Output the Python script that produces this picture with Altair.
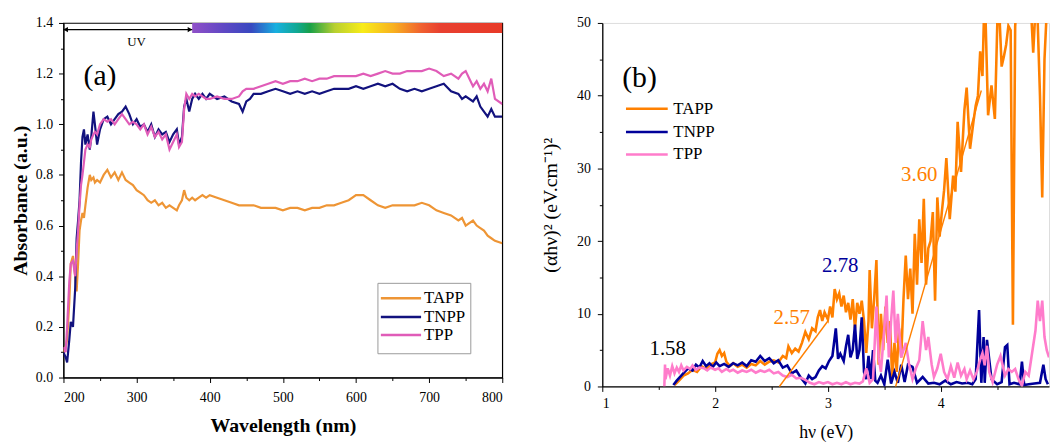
import altair as alt
import pandas as pd

# ---------------- Panel (a): absorbance vs wavelength ----------------
wl_a = [200, 203, 205, 208, 210, 213, 216, 218, 220, 222,
        224, 226, 228, 230, 233, 236, 238, 241, 243, 246,
        250, 255, 260, 265, 270, 275, 280, 285, 290, 295,
        300, 305, 310, 315, 320, 325, 330, 335, 340, 345,
        350, 355, 358, 362, 365, 368, 372, 376, 380, 385,
        390, 395, 400, 410, 420, 430, 440, 445, 450, 455,
        460, 470, 480, 490, 500, 510, 520, 530, 540, 550,
        560, 570, 580, 590, 600, 610, 620, 630, 640, 650,
        660, 670, 680, 690, 700, 710, 720, 730, 740, 745,
        750, 760, 765, 770, 775, 780, 785, 790, 800]
tapp_a = [0.10, 0.12, 0.15, 0.30, 0.45, 0.48, 0.40, 0.34, 0.45, 0.58,
          0.62, 0.65, 0.63, 0.68, 0.75, 0.80, 0.78, 0.79, 0.77, 0.78,
          0.77, 0.80, 0.82, 0.79, 0.81, 0.78, 0.81, 0.78, 0.77, 0.76,
          0.74, 0.73, 0.72, 0.70, 0.69, 0.70, 0.68, 0.69, 0.67, 0.68,
          0.67, 0.66, 0.68, 0.70, 0.74, 0.71, 0.70, 0.71, 0.70, 0.71,
          0.72, 0.71, 0.72, 0.71, 0.70, 0.69, 0.68, 0.68, 0.68, 0.68,
          0.68, 0.67, 0.67, 0.67, 0.66, 0.67, 0.67, 0.66, 0.67, 0.67,
          0.68, 0.68, 0.69, 0.70, 0.72, 0.72, 0.70, 0.68, 0.67, 0.68,
          0.68, 0.68, 0.68, 0.69, 0.68, 0.66, 0.65, 0.64, 0.62, 0.63,
          0.60, 0.62, 0.60, 0.59, 0.58, 0.56, 0.55, 0.54, 0.53]
tnpp_a = [0.10, 0.08, 0.06, 0.15, 0.22, 0.20, 0.35, 0.55, 0.62, 0.70,
          0.85, 0.95, 0.98, 0.92, 0.96, 0.90, 0.95, 1.05, 1.00, 0.92,
          0.98, 1.02, 1.03, 1.00, 1.02, 1.04, 1.05, 1.07, 1.04, 1.00,
          1.02, 0.99, 1.00, 0.97, 1.00, 0.95, 0.98, 0.96, 0.97, 0.93,
          0.96, 0.98, 0.92, 0.95, 1.07, 1.10, 1.05, 1.10, 1.12, 1.10,
          1.12, 1.10, 1.12, 1.10, 1.11, 1.09, 1.08, 1.05, 1.09, 1.10,
          1.12, 1.12, 1.13, 1.14, 1.13, 1.12, 1.13, 1.12, 1.13, 1.12,
          1.13, 1.14, 1.14, 1.14, 1.15, 1.14, 1.15, 1.16, 1.15, 1.16,
          1.14, 1.13, 1.14, 1.13, 1.14, 1.15, 1.16, 1.13, 1.12, 1.10,
          1.11, 1.09, 1.11, 1.07, 1.05, 1.03, 1.06, 1.03, 1.03]
tpp_a = [0.12, 0.10, 0.20, 0.38, 0.45, 0.46, 0.40, 0.50, 0.58, 0.68,
         0.76, 0.80, 0.85, 0.90, 0.92, 0.91, 0.94, 0.96, 0.97, 0.96,
         1.00, 1.02, 1.01, 1.02, 1.00, 1.02, 1.04, 1.02, 1.00, 1.01,
         1.00, 0.98, 1.00, 0.96, 0.99, 0.95, 0.97, 0.94, 0.96, 0.90,
         0.93, 0.96, 0.91, 0.93, 1.06, 1.12, 1.10, 1.12, 1.11, 1.12,
         1.11, 1.10, 1.10, 1.11, 1.10, 1.10, 1.11, 1.13, 1.14, 1.14,
         1.14, 1.15, 1.16, 1.17, 1.16, 1.17, 1.17, 1.18, 1.17, 1.18,
         1.18, 1.19, 1.19, 1.19, 1.19, 1.20, 1.19, 1.20, 1.21, 1.20,
         1.20, 1.21, 1.21, 1.21, 1.22, 1.21, 1.19, 1.20, 1.18, 1.20,
         1.21, 1.15, 1.17, 1.14, 1.16, 1.13, 1.18, 1.10, 1.08]

series_names = ["TAPP", "TNPP", "TPP"]
colors_a = ["#EE9535", "#12127E", "#E05CB8"]
colors_b = ["#FF8000", "#00009A", "#FF7CCB"]

x_major_a = [200, 300, 400, 500, 600, 700, 800]
x_minor_a = [250, 350, 450, 550, 650, 750]
y_major_a = [0.0, 0.2, 0.4, 0.6, 0.8, 1.0, 1.2, 1.4]
y_minor_a = [0.1, 0.3, 0.5, 0.7, 0.9, 1.1, 1.3]

# legend of panel (a), in data units: box, sample-line span, rows, label x
legend_a_box = (630, 757, 0.372, 0.094)
legend_a_line = (634, 689)
legend_a_rows = [0.313, 0.239, 0.168]
legend_a_text_x = 693

# visible spectrum bar and UV arrow (data units)
vis_start, vis_end, vis_top, vis_bottom = 376, 800, 1.4, 1.36
uv_start, uv_end, uv_level = 200, 376, 1.374
uv_label = ("UV", 300, 1.325)
label_a = ("(a)", 250, 1.19)
spectrum_stops = [("#9050C8", 0.0), ("#6048C4", 0.10), ("#3848C0", 0.19),
                  ("#18B0E0", 0.27), ("#10A890", 0.34), ("#18A048", 0.38),
                  ("#B8D030", 0.46), ("#F8EC18", 0.55), ("#F8B020", 0.65),
                  ("#F06030", 0.74), ("#E84030", 0.80), ("#E83A28", 1.0)]

# ---------------- Panel (b): Tauc plot ----------------
ev_tapp = [1.64, 1.68, 1.72, 1.76, 1.80, 1.84, 1.88, 1.92, 1.96, 2.00,
           2.02, 2.04, 2.06, 2.08, 2.10, 2.13, 2.16, 2.20, 2.24, 2.28,
           2.32, 2.36, 2.40, 2.44, 2.48, 2.52, 2.56, 2.60, 2.63, 2.65,
           2.68, 2.71, 2.74, 2.77, 2.80, 2.83, 2.86, 2.89, 2.91, 2.93,
           2.95, 2.97, 3.00, 3.02, 3.04, 3.06, 3.08, 3.10, 3.12, 3.14,
           3.16, 3.18, 3.20, 3.22, 3.24, 3.26, 3.28, 3.30, 3.32, 3.34,
           3.36, 3.37, 3.39, 3.41, 3.43, 3.45, 3.47, 3.49, 3.51, 3.53,
           3.55, 3.57, 3.59, 3.61, 3.63, 3.65, 3.67, 3.69, 3.71, 3.73,
           3.75, 3.77, 3.79, 3.81, 3.83, 3.85, 3.87, 3.89, 3.91, 3.93,
           3.95, 3.97, 3.99, 4.01, 4.03, 4.05, 4.08, 4.11, 4.13, 4.15,
           4.18, 4.21, 4.23, 4.26, 4.29, 4.31, 4.33, 4.35, 4.37, 4.39,
           4.42, 4.45, 4.48, 4.51, 4.54, 4.56, 4.58, 4.60, 4.62, 4.64,
           4.66, 4.68, 4.72, 4.76, 4.79, 4.82, 4.85, 4.88, 4.90, 4.92,
           4.95]
tapp_b = [0.2, 0.8, 1.5, 1.8, 2.3, 2.0, 2.8, 2.4, 3.0, 3.3,
          4.5, 5.0, 4.2, 4.6, 3.4, 2.8, 3.2, 2.7, 3.0, 2.6,
          3.1, 2.9, 3.5, 3.0, 3.4, 3.6, 3.3, 4.2, 3.9, 5.5,
          4.6, 5.2, 4.8, 6.0, 7.5, 6.5, 8.0, 7.6, 9.5, 10.5,
          9.0, 10.2, 9.2, 11.0, 9.5, 13.4, 12.0, 12.8, 11.0, 12.5,
          10.2, 11.5, 9.2, 12.0, 8.0, 11.5, 10.0, 11.8, 9.0, 4.6,
          9.0, 16.0, 8.0, 12.0, 17.4, 3.0, 10.0, 5.0, 11.0, 6.0,
          9.0, 1.0, 6.0, 2.0, 8.0, 4.0, 12.0, 18.0, 12.0, 16.2,
          10.0, 21.0, 14.0, 23.0, 17.0, 25.8, 14.0, 19.0, 20.0, 24.0,
          11.8, 26.0, 20.6, 24.0, 27.0, 31.4, 23.0, 29.0, 26.8, 36.4,
          29.5, 38.0, 41.1, 32.7, 36.4, 38.6, 40.0, 46.1, 42.7, 55.0,
          37.3, 41.4, 36.8, 55.0, 44.0, 45.4, 47.0, 49.6, 49.0, 8.5,
          49.5, 55.0, 58.0, 56.0, 55.0, 45.9, 55.0, 40.0, 26.0, 45.0,
          55.0]
ev_tnpp = [1.63, 1.66, 1.70, 1.73, 1.76, 1.80, 1.83, 1.86, 1.89, 1.92,
           1.95, 1.98, 2.01, 2.04, 2.08, 2.12, 2.16, 2.20, 2.24, 2.28,
           2.32, 2.36, 2.40, 2.44, 2.48, 2.52, 2.56, 2.60, 2.64, 2.68,
           2.72, 2.76, 2.80, 2.83, 2.86, 2.89, 2.92, 2.95, 2.98, 3.01,
           3.04, 3.07, 3.09, 3.11, 3.14, 3.16, 3.18, 3.20, 3.22, 3.24,
           3.26, 3.28, 3.30, 3.32, 3.34, 3.36, 3.38, 3.40, 3.42, 3.44,
           3.47, 3.50, 3.53, 3.56, 3.59, 3.62, 3.65, 3.68, 3.71, 3.75,
           3.79, 3.84, 3.89, 3.94, 3.99, 4.04, 4.09, 4.14, 4.19, 4.24,
           4.28, 4.31, 4.34, 4.36, 4.38, 4.39, 4.41, 4.45, 4.50, 4.54,
           4.57, 4.59, 4.61, 4.65, 4.70, 4.72, 4.74, 4.78, 4.83, 4.88,
           4.91, 4.93, 4.95]
tnpp_b = [0.2, 0.8, 1.5, 2.0, 2.5, 2.2, 3.0, 2.6, 3.5, 2.8,
          3.2, 2.7, 3.3, 2.8, 3.1, 2.7, 3.2, 2.9, 3.3, 2.8,
          3.6, 3.4, 4.2, 3.5, 3.9, 3.2, 3.6, 2.6, 2.9, 1.8,
          2.2, 1.2, 0.4, 1.5, 1.0, 1.3, 2.2, 2.8, 2.5, 3.5,
          4.2, 8.0, 3.8, 4.5, 3.5, 5.5, 7.1, 4.0, 5.0, 8.5,
          3.8, 5.0, 9.5, 2.0, 1.0, 4.2, 1.0, 5.0, 0.8, 0.5,
          1.5, 0.3, 3.7, 0.4, 2.0, 0.5, 3.0, 0.6, 3.0, 2.7,
          0.5, 1.3, 0.4, 0.5, 0.3, 0.8, 0.3, 0.6, 0.4, 0.5,
          0.3, 1.0, 10.5, 0.5, 6.8, 0.5, 6.4, 1.0, 0.3, 0.6,
          5.4, 5.7, 0.3, 0.5, 0.3, 3.4, 0.2, 0.3, 0.4, 0.5,
          3.0, 1.0, 0.3]
ev_tpp = [1.550, 1.556, 1.56, 1.58, 1.60, 1.62, 1.64, 1.66, 1.68, 1.70,
          1.72, 1.75, 1.78, 1.80, 1.83, 1.86, 1.90, 1.93, 1.96, 2.00,
          2.03, 2.06, 2.10, 2.13, 2.16, 2.20, 2.24, 2.28, 2.32, 2.36,
          2.40, 2.44, 2.48, 2.52, 2.56, 2.60, 2.64, 2.68, 2.72, 2.76,
          2.80, 2.84, 2.88, 2.92, 2.96, 3.00, 3.04, 3.08, 3.12, 3.16,
          3.20, 3.24, 3.28, 3.31, 3.34, 3.37, 3.40, 3.43, 3.45, 3.47,
          3.50, 3.52, 3.54, 3.56, 3.58, 3.60, 3.62, 3.65, 3.69, 3.72,
          3.75, 3.78, 3.81, 3.84, 3.87, 3.89, 3.92, 3.94, 3.97, 4.00,
          4.03, 4.06, 4.09, 4.12, 4.15, 4.18, 4.21, 4.23, 4.26, 4.29,
          4.32, 4.35, 4.37, 4.39, 4.41, 4.43, 4.46, 4.50, 4.53, 4.57,
          4.60, 4.63, 4.66, 4.69, 4.72, 4.75, 4.78, 4.81, 4.84, 4.86,
          4.88, 4.90, 4.92, 4.94, 4.96]
tpp_b = [0.0, 3.0, 1.0, 2.5, 1.5, 2.8, 1.8, 2.6, 2.0, 2.9,
         2.2, 2.7, 2.4, 2.9, 2.3, 2.6, 2.5, 2.2, 2.6, 2.3,
         2.5, 2.0, 2.4, 2.1, 2.3, 1.9, 2.2, 2.0, 2.3, 1.9,
         2.2, 2.0, 2.3, 1.8, 2.0, 1.5, 1.3, 1.6, 1.1, 1.2,
         0.9, 0.5, 0.3, 0.6, 0.4, 0.6, 0.3, 0.5, 0.3, 0.6,
         0.3, 0.5, 0.4, 0.7, 2.5, 0.5, 1.0, 11.0, 4.0, 2.0,
         8.0, 12.5, 4.0, 9.0, 13.2, 6.0, 10.0, 4.0, 6.0, 3.0,
         1.0, 2.5, 3.6, 9.0, 5.0, 6.8, 3.0, 1.3, 2.5, 4.5,
         2.0, 1.0, 2.8, 1.2, 3.3, 1.5, 2.4, 1.0, 2.2, 1.0,
         2.0, 3.7, 4.6, 2.9, 5.6, 2.0, 0.6, 3.0, 4.2, 1.5,
         2.4, 2.0, 2.4, 1.0, 0.1, 2.0, 1.5, 4.6, 7.7, 11.8,
         9.0, 11.8, 6.8, 5.0, 4.0]

# linear fits (band-gap extrapolations): (series, x0, y0, x1, y1)
fits_b = [("TAPP", 2.57, 0.0, 3.00, 9.0),
          ("TAPP", 3.60, 0.0, 4.36, 40.7)]
# band-gap labels: (text, x, y, colour)
gap_labels = [("1.58", 1.58, 5.2, "#000000"),
              ("2.57", 2.68, 9.4, "#FF8000"),
              ("2.78", 3.11, 16.5, "#00009A"),
              ("3.60", 3.81, 29.1, "#FF8000")]
label_b = ("(b)", 1.33, 42.4)

# legend of panel (b), in data units
legend_b_line = (1.21, 1.58)
legend_b_rows = [38.2, 35.0, 31.9]
legend_b_text_x = 1.63

x_major_b = [1, 2, 3, 4, 5]
x_minor_b = [1.5, 2.5, 3.5, 4.5]
y_major_b = [0, 10, 20, 30, 40, 50]
y_minor_b = [5, 15, 25, 35, 45]

FONT = "Liberation Serif"

# ---------------- build tables ----------------
df_a = pd.concat([
    pd.DataFrame({"wl": wl_a, "abs": vals, "series": name, "order": range(len(wl_a))})
    for name, vals in zip(series_names, [tapp_a, tnpp_a, tpp_a])
])
df_b = pd.concat([
    pd.DataFrame({"ev": ev_tapp, "val": tapp_b, "series": "TAPP"}),
    pd.DataFrame({"ev": ev_tnpp, "val": tnpp_b, "series": "TNPP"}),
    pd.DataFrame({"ev": ev_tpp, "val": tpp_b, "series": "TPP"}),
])
df_b["order"] = range(len(df_b))

xs_a = alt.Scale(domain=[200, 800], nice=False)
ys_a = alt.Scale(domain=[0, 1.4], nice=False)
xs_b = alt.Scale(domain=[1, 4.96], nice=False)
ys_b = alt.Scale(domain=[0, 50], nice=False)


def xa(f):
    return alt.X(f, scale=xs_a, axis=None)


def ya(f):
    return alt.Y(f, scale=ys_a, axis=None)


def xb(f):
    return alt.X(f, scale=xs_b, axis=None)


def yb(f):
    return alt.Y(f, scale=ys_b, axis=None)


lab_a = dict(labelFont=FONT, labelFontSize=14, labelColor="black",
             domainColor="black", tickColor="black", tickSize=5, grid=False)

lines_a = alt.Chart(df_a).mark_line(strokeWidth=2.2, clip=True).encode(
    x=alt.X("wl:Q", scale=xs_a, axis=alt.Axis(
        values=x_major_a, format="d", title="Wavelength (nm)", orient="bottom",
        titleFont=FONT, titleFontSize=20, titleFontWeight="bold", titleColor="black",
        titlePadding=11, labelPadding=8, **lab_a)),
    y=alt.Y("abs:Q", scale=ys_a, axis=alt.Axis(
        values=y_major_a, format=".1f", title="Absorbance (a.u.)", orient="left",
        titleFont=FONT, titleFontSize=20, titleFontWeight="bold", titleColor="black",
        titlePadding=5, labelPadding=6, **lab_a)),
    color=alt.Color("series:N", scale=alt.Scale(domain=series_names, range=colors_a),
                    legend=None),
    order="order:Q",
)

minor_a = alt.Chart(df_a).mark_point(opacity=0, clip=True).encode(
    x=alt.X("wl:Q", scale=xs_a, axis=alt.Axis(
        values=x_minor_a, labels=False, title=None, orient="bottom", tickSize=3,
        domain=False, tickColor="black", grid=False)),
    y=alt.Y("abs:Q", scale=ys_a, axis=alt.Axis(
        values=y_minor_a, labels=False, title=None, orient="left", tickSize=3,
        domain=False, tickColor="black", grid=False)),
)

grad = alt.LinearGradient(
    gradient="linear", x1=0, x2=1, y1=0, y2=0,
    stops=[alt.GradientStop(color=c, offset=o) for c, o in spectrum_stops])
vis_bar = alt.Chart(pd.DataFrame({"x": [vis_start], "x2": [vis_end],
                                  "y": [vis_top], "y2": [vis_bottom]})).mark_rect(
    color=grad).encode(x=xa("x:Q"), x2="x2:Q", y=ya("y:Q"), y2="y2:Q")
uv_rule = alt.Chart(pd.DataFrame({"x": [uv_start], "x2": [uv_end], "y": [uv_level]})).mark_rule(
    color="black", strokeWidth=1.2).encode(x=xa("x:Q"), x2="x2:Q", y=ya("y:Q"))
uv_heads = alt.Chart(pd.DataFrame({"x": [uv_start + 3, uv_end - 3], "y": [uv_level, uv_level],
                                   "s": ["triangle-left", "triangle-right"]})).mark_point(
    filled=True, color="black", size=28, opacity=1).encode(
    x=xa("x:Q"), y=ya("y:Q"), shape=alt.Shape("s:N", scale=None))
uv_text = alt.Chart(pd.DataFrame({"t": [uv_label[0]], "x": [uv_label[1]], "y": [uv_label[2]]})).mark_text(
    font=FONT, fontSize=13, color="black").encode(x=xa("x:Q"), y=ya("y:Q"), text="t:N")
a_text = alt.Chart(pd.DataFrame({"t": [label_a[0]], "x": [label_a[1]], "y": [label_a[2]]})).mark_text(
    font=FONT, fontSize=30, color="black").encode(x=xa("x:Q"), y=ya("y:Q"), text="t:N")

# manual legend (a)
leg_a_df = pd.DataFrame({"series": series_names, "y": legend_a_rows, "c": colors_a,
                         "x0": legend_a_line[0], "x1": legend_a_line[1], "tx": legend_a_text_x})
leg_a_boxdf = pd.DataFrame({"x": [legend_a_box[0]], "x2": [legend_a_box[1]],
                            "y": [legend_a_box[2]], "y2": [legend_a_box[3]]})
leg_a_box = alt.Chart(leg_a_boxdf).mark_rect(fill="white", stroke="#9a9a9a", strokeWidth=1).encode(
    x=xa("x:Q"), x2="x2:Q", y=ya("y:Q"), y2="y2:Q")
leg_a_lines = alt.Chart(leg_a_df).mark_rule(strokeWidth=2.5).encode(
    x=xa("x0:Q"), x2="x1:Q", y=ya("y:Q"), color=alt.Color("c:N", scale=None))
leg_a_text = alt.Chart(leg_a_df).mark_text(font=FONT, fontSize=17, color="black", align="left",
                                           baseline="middle").encode(
    x=xa("tx:Q"), y=ya("y:Q"), text="series:N")

panel_a = alt.layer(lines_a, minor_a, vis_bar, uv_rule, uv_heads, uv_text, a_text,
                    leg_a_box, leg_a_lines, leg_a_text).resolve_axis(
    x="independent", y="independent").properties(
    width=443, height=358, view=alt.ViewBackground(stroke="black", strokeWidth=1.2))

# ---------------- panel (b) ----------------
lab_b = dict(labelFont=FONT, labelFontSize=14, labelColor="black",
             domainColor="black", tickColor="black", tickSize=5,
             grid=False, domainWidth=1.3)

lines_b = alt.Chart(df_b).mark_line(strokeWidth=2.6, clip=True).encode(
    x=alt.X("ev:Q", scale=xs_b, axis=alt.Axis(
        values=x_major_b, format="d", title="hν (eV)", orient="bottom",
        titleFont=FONT, titleFontSize=18, titleFontWeight="normal", titleColor="black",
        titlePadding=14, labelPadding=5, **lab_b)),
    y=alt.Y("val:Q", scale=ys_b, axis=alt.Axis(
        values=y_major_b, format="d", title="(αhν)² (eV.cm⁻¹)²", orient="left",
        titleFont=FONT, titleFontSize=20, titleFontWeight="normal", titleColor="black",
        titlePadding=16, labelPadding=7, **lab_b)),
    color=alt.Color("series:N", scale=alt.Scale(domain=series_names, range=colors_b),
                    legend=None),
    detail="series:N",
    order="order:Q",
)

minor_b = alt.Chart(df_b).mark_point(opacity=0, clip=True).encode(
    x=alt.X("ev:Q", scale=xs_b, axis=alt.Axis(
        values=x_minor_b, labels=False, title=None, orient="bottom", tickSize=3,
        domain=False, tickColor="black", grid=False)),
    y=alt.Y("val:Q", scale=ys_b, axis=alt.Axis(
        values=y_minor_b, labels=False, title=None, orient="left", tickSize=3,
        domain=False, tickColor="black", grid=False)),
)

fit_rows = []
for i, (s, x0, y0, x1, y1) in enumerate(fits_b):
    fit_rows += [{"fit": i, "series": s, "ev": x0, "val": y0},
                 {"fit": i, "series": s, "ev": x1, "val": y1}]
fit_lines = alt.Chart(pd.DataFrame(fit_rows)).mark_line(strokeWidth=1.4, color="#FF8000").encode(
    x=xb("ev:Q"), y=yb("val:Q"), detail="fit:N")

gap_df = pd.DataFrame(gap_labels, columns=["t", "ev", "val", "c"])
gap_text = alt.Chart(gap_df).mark_text(font=FONT, fontSize=21).encode(
    x=xb("ev:Q"), y=yb("val:Q"), text="t:N", color=alt.Color("c:N", scale=None))
b_text = alt.Chart(pd.DataFrame({"t": [label_b[0]], "ev": [label_b[1]], "val": [label_b[2]]})).mark_text(
    font=FONT, fontSize=30, color="black").encode(x=xb("ev:Q"), y=yb("val:Q"), text="t:N")

leg_b_df = pd.DataFrame({"series": series_names, "y": legend_b_rows, "c": colors_b,
                         "x0": legend_b_line[0], "x1": legend_b_line[1], "tx": legend_b_text_x})
leg_b_lines = alt.Chart(leg_b_df).mark_rule(strokeWidth=2.6).encode(
    x=xb("x0:Q"), x2="x1:Q", y=yb("y:Q"), color=alt.Color("c:N", scale=None))
leg_b_text = alt.Chart(leg_b_df).mark_text(font=FONT, fontSize=17, color="black", align="left",
                                           baseline="middle").encode(
    x=xb("tx:Q"), y=yb("y:Q"), text="series:N")

panel_b = alt.layer(lines_b, minor_b, fit_lines, gap_text, b_text, leg_b_lines, leg_b_text).resolve_axis(
    x="independent", y="independent").properties(width=451, height=367)

chart = alt.hconcat(panel_a, panel_b, spacing=36).resolve_scale(color="independent").properties(
    padding={"left": 1, "top": 5, "right": 0, "bottom": 0}
).configure_view(stroke=None).configure(background="white")

chart.save("out.html", embed_options={"renderer": "svg", "actions": False})
